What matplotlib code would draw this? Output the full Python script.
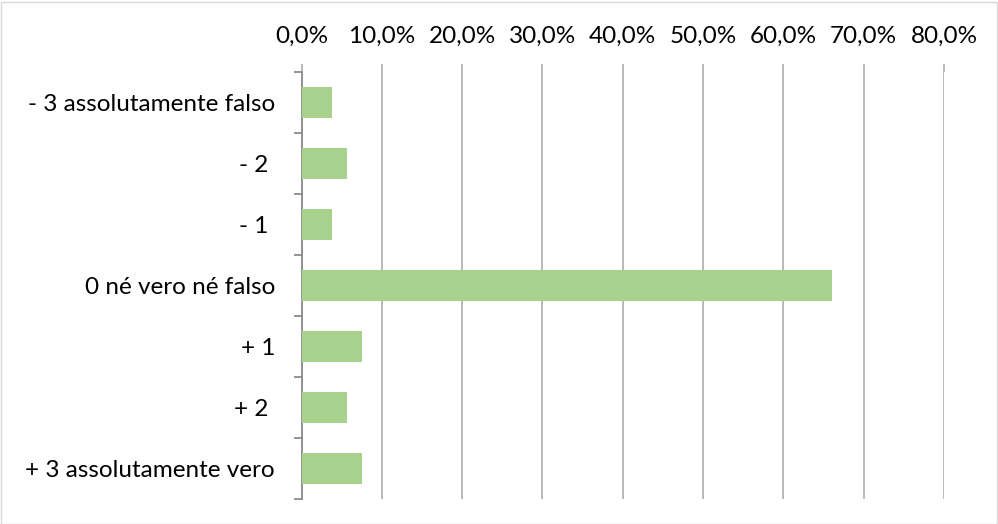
import matplotlib.pyplot as plt
from matplotlib.ticker import FuncFormatter
from matplotlib.patches import Rectangle

categorie = ["- 3 assolutamente falso", "- 2 ", "- 1 ", "0 né vero né falso",
             "+ 1", "+ 2 ", "+ 3 assolutamente vero"]
percentuali = [3.77, 5.66, 3.77, 66.04, 7.55, 5.66, 7.55]
tick_x = [0, 10, 20, 30, 40, 50, 60, 70, 80]

plt.rcParams['font.family'] = ['Lato', 'DejaVu Sans']

fig = plt.figure(figsize=(9.98, 5.24), dpi=100)
ax = fig.add_axes([301.5 / 998, 1 - 499 / 524, (944 - 301.5) / 998, (499 - 72) / 524])

y = list(range(len(categorie)))
ax.barh(y, percentuali, height=0.5, color="#A9D18E", zorder=3)
ax.set_ylim(len(categorie) - 0.5, -0.5)
ax.set_xlim(0, 80)
ax.set_xticks(tick_x)
ax.xaxis.set_major_formatter(FuncFormatter(lambda v, p: f"{v:.1f}%".replace(".", ",")))
ax.xaxis.tick_top()
ax.grid(axis="x", color="#b3b3b3", linewidth=1.3, zorder=0)
ax.tick_params(axis="x", length=6, color="#b3b3b3", width=1.3, labelsize=17.5, pad=12)

ax.set_yticks([i - 0.5 for i in range(len(categorie) + 1)], minor=False)
ax.set_yticklabels([])
ax.set_yticks(y, minor=True)
ax.set_yticklabels(categorie, minor=True)
ax.tick_params(axis="y", which="major", length=6, color="#8c8c8c", width=1.3)
ax.tick_params(axis="y", which="minor", length=0, labelsize=17.5, pad=19)

for lato in ["top", "right", "bottom"]:
    ax.spines[lato].set_visible(False)
ax.spines["left"].set_color("#8c8c8c")
ax.spines["left"].set_linewidth(1.3)

fig.patches.append(Rectangle((0.5 / 998, 0.5 / 524), 996 / 998, 522 / 524,
                             transform=fig.transFigure, fill=False,
                             edgecolor="#d9d9d9", linewidth=1))

fig.savefig("out.png", dpi=100)
